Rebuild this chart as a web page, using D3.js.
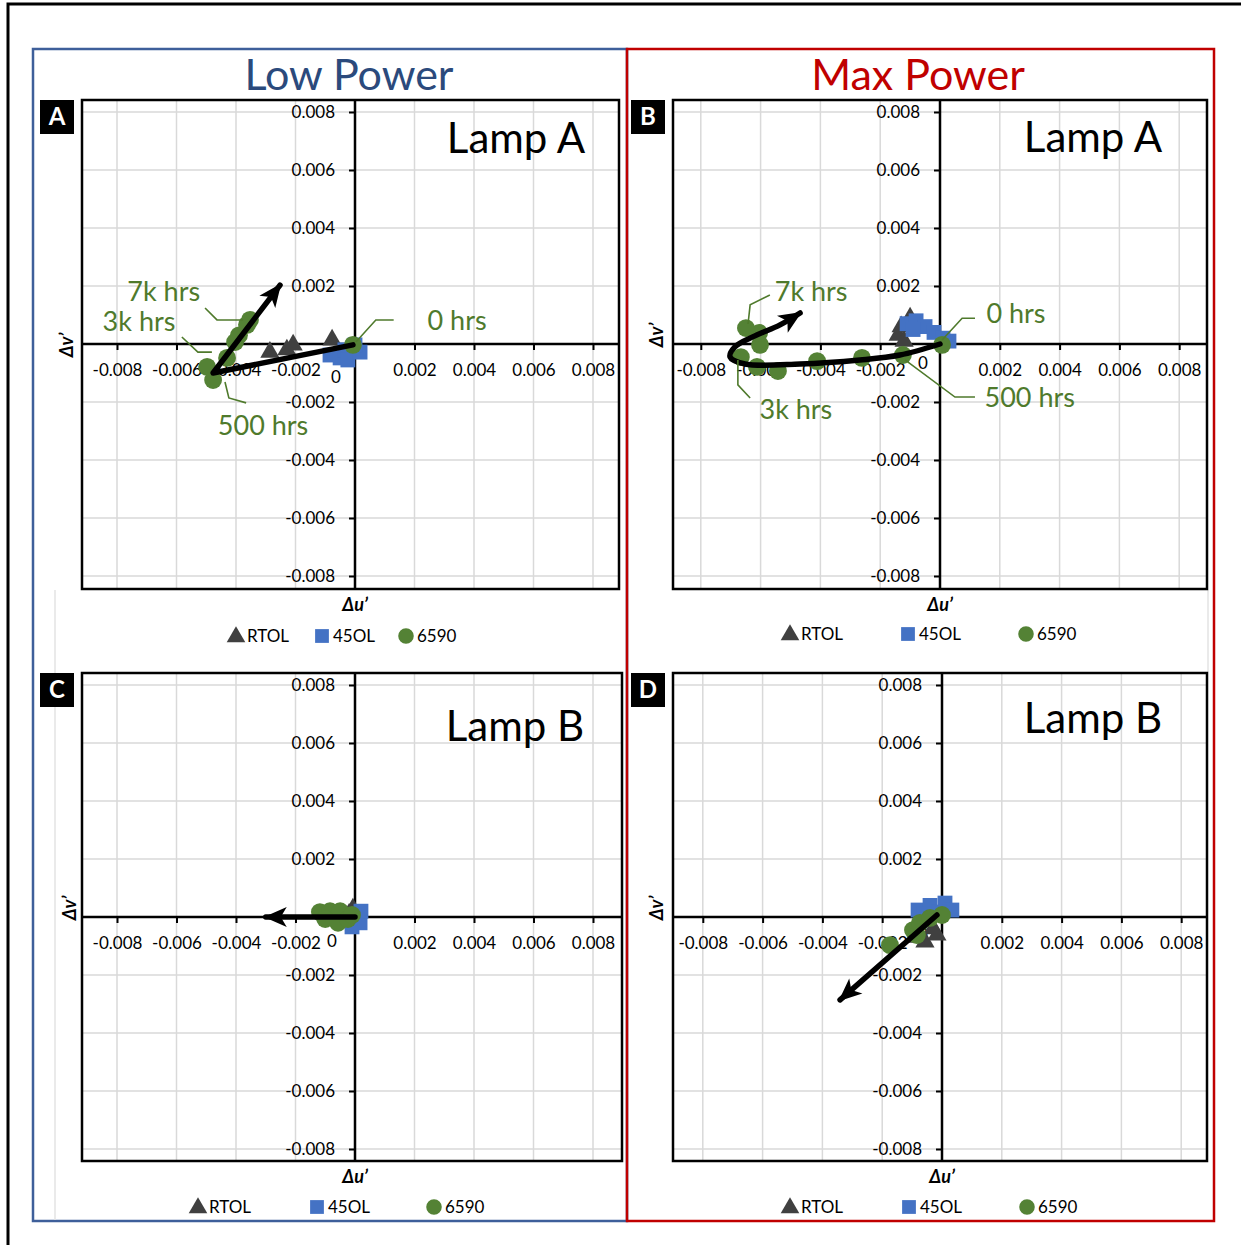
<!doctype html>
<html lang="en">
<head>
    <meta charset="utf-8">
    <title>Lamp chromaticity shift</title>
    <script src="https://cdnjs.cloudflare.com/ajax/libs/d3/7.8.5/d3.min.js"></script>
    <style>
        body { margin: 0; background: #fff; }
        svg text { font-family: Lato, "Open Sans", sans-serif; }
        .tick-label { font-size: 17px; fill: #000; }
        .grid { stroke: #d9d9d9; stroke-width: 1.5; }
    </style>
</head>
<body>
    <div id="chart"></div>
    <script>
        // ---- data (du', dv') ----
        var seriesNames = ['RTOL', '45OL', '6590'];
        var axisTicks = [-0.008, -0.006, -0.004, -0.002, 0.002, 0.004, 0.006, 0.008];

        // A: low power, lamp A
        var lowA_RTOL = [[-0.00286, -0.00028], [-0.00229, -0.0002], [-0.00208, -0.00003], [-0.00077, 0.00014]];
        var lowA_45OL = [[-0.00084, -0.00038], [-0.0005, -0.00048], [-0.00034, -0.0002], [-0.00024, -0.00055], [0.00017, -0.00028], [0.0, -0.00003]];
        var lowA_6590 = [[-0.00007, -0.00003], [-0.00497, -0.00079], [-0.00477, -0.00124], [-0.0043, -0.00048],
                         [-0.00403, 0.00007], [-0.0039, 0.0003], [-0.00363, 0.00066], [-0.00353, 0.00083]];
        // B: max power, lamp A
        var maxA_RTOL = [[-0.0013, 0.0006], [-0.0014, 0.0003], [-0.0012, 0.0001], [-0.001, 0.0009]];
        var maxA_45OL = [[-0.0011, 0.0007], [-0.0008, 0.0008], [-0.0005, 0.0006], [-0.0009, 0.0005],
                         [-0.0002, 0.0004], [0.0001, 0.0002], [0.0003, 0.0001]];
        var maxA_6590 = [[0.00007, -0.00003], [-0.00124, -0.00038], [-0.00261, -0.00048], [-0.00411, -0.00059],
                         [-0.00542, -0.00093], [-0.00612, -0.00079], [-0.00666, -0.00045], [-0.00602, -0.00003],
                         [-0.00605, 0.00038], [-0.00649, 0.00055]];
        // C: low power, lamp B
        var lowB_RTOL = [[-0.00007, 0.00028], [-0.0002, 0.0001]];
        var lowB_45OL = [[0.00007, 0.0], [0.00017, -0.0002], [-0.0001, -0.00034], [0.0002, 0.0002]];
        var lowB_6590 = [[-0.00118, 0.00017], [-0.00084, 0.0002], [-0.0005, 0.0002], [-0.001, -0.00007],
                         [-0.00057, -0.0002], [-0.00024, -0.00007], [-0.0001, 0.00007]];
        // D: max power, lamp B
        var maxB_RTOL = [[-0.00057, -0.00086], [-0.00017, -0.00062], [-0.0009, -0.0007], [-0.0003, -0.0004]];
        var maxB_45OL = [[-0.0008, 0.00024], [-0.0004, 0.0004], [0.0001, 0.00048], [0.00033, 0.00024],
                         [-0.0001, 0.00017], [-0.0006, 0.0001]];
        var maxB_6590 = [[-0.00174, -0.00097], [-0.00097, -0.00045], [-0.00084, -0.00062], [-0.00074, -0.0002],
                         [-0.0004, -0.00003], [0.0, 0.00007]];

        // trend arrows
        var arrowLowA = [[-0.00007, -0.00003], [-0.00477, -0.001], [-0.00252, 0.00203]];
        var arrowMaxA = [[0.0, 0.0], [-0.00134, -0.00038], [-0.00268, -0.00055], [-0.00468, -0.00069],
                         [-0.00652, -0.00069], [-0.00702, -0.00045], [-0.00686, -0.0001], [-0.00619, 0.00028],
                         [-0.00535, 0.00066], [-0.00468, 0.00107]];
        var arrowLowB = [[0.0, 0.0], [-0.003, 0.0]];
        var arrowMaxB = [[-0.00017, 0.00007], [-0.00341, -0.00286]];

        // hour labels: text, anchor point, leader line
        var hoursLowA = [
            {text: '7k hrs', at: [-0.00643, 0.00183], leader: [[-0.00504, 0.00124], [-0.00464, 0.00083], [-0.00376, 0.00083]]},
            {text: '3k hrs', at: [-0.00726, 0.00079], leader: [[-0.00582, 0.00024], [-0.00528, -0.00028], [-0.00481, -0.00028]]},
            {text: '500 hrs', at: [-0.00309, -0.00279], leader: [[-0.00437, -0.00131], [-0.00424, -0.00186], [-0.00366, -0.00203]]},
            {text: '0 hrs', at: [0.00343, 0.00083], leader: [[0.00003, 0.00007], [0.0007, 0.00083], [0.0013, 0.00083]]}
        ];
        var hoursMaxA = [
            {text: '7k hrs', at: [-0.00431, 0.00183], leader: [[-0.00569, 0.00169], [-0.00635, 0.00135], [-0.00642, 0.00069]]},
            {text: '0 hrs', at: [0.00254, 0.00107], leader: [[0.00007, 0.00014], [0.00074, 0.00089], [0.00117, 0.00089]]},
            {text: '500 hrs', at: [0.003, -0.00183], leader: [[-0.00117, -0.00055], [0.0005, -0.00183], [0.00117, -0.00183]]},
            {text: '3k hrs', at: [-0.00482, -0.00224], leader: [[-0.00676, -0.00055], [-0.00676, -0.00141], [-0.00635, -0.00186]]}
        ];

        // ---- layout ----
        var panels = [
            {id: 'A', box: [82, 619, 100, 589], origin: [355, 344], k: [29750, 29000], lamp: 'Lamp A', lampAt: [516, 153],
             zero: [-19, 33], rtol: lowA_RTOL, ol: lowA_45OL, g: lowA_6590, arrow: arrowLowA, curved: false, hours: hoursLowA,
             legend: [236, 322, 406], legendY: 636, vTitle: [67, 345]},
            {id: 'B', box: [673, 1207, 100, 589], origin: [940, 344], k: [29900, 29000], lamp: 'Lamp A', lampAt: [1093, 152],
             zero: [-17, 19], rtol: maxA_RTOL, ol: maxA_45OL, g: maxA_6590, arrow: arrowMaxA, curved: true, hours: hoursMaxA,
             legend: [790, 908, 1026], legendY: 634, vTitle: [657, 335]},
            {id: 'C', box: [82, 622, 673, 1161], origin: [355, 917], k: [29750, 29000], lamp: 'Lamp B', lampAt: [515, 741],
             zero: [-23, 24], rtol: lowB_RTOL, ol: lowB_45OL, g: lowB_6590, arrow: arrowLowB, curved: false, hours: [],
             legend: [198, 317, 434], legendY: 1207, vTitle: [70, 908]},
            {id: 'D', box: [673, 1207, 673, 1161], origin: [942, 917], k: [29900, 29000], lamp: 'Lamp B', lampAt: [1093, 733],
             zero: [-19, 17], rtol: maxB_RTOL, ol: maxB_45OL, g: maxB_6590, arrow: arrowMaxB, curved: false, hours: [],
             legend: [790, 909, 1027], legendY: 1207, vTitle: [657, 908]}
        ];

        var colors = {rtol: '#404040', ol: '#4472c4', g: '#548235', label: '#4f7a2c'};

        var svg = d3.select('#chart')
            .append('svg')
            .attr('width', 1241)
            .attr('height', 1245);

        svg.append('defs').append('marker')
            .attr('id', 'head')
            .attr('viewBox', '-22 -11 24 22')
            .attr('refX', 0).attr('refY', 0)
            .attr('markerUnits', 'userSpaceOnUse')
            .attr('markerWidth', 24).attr('markerHeight', 22)
            .attr('orient', 'auto')
            .append('path')
            .attr('d', 'M-21,-10 L2,0 L-21,10 L-15,0 Z')
            .attr('fill', '#000');

        // outer frame (left and top edges only)
        svg.append('path')
            .attr('d', 'M8,1245 L8,4 L1241,4')
            .attr('fill', 'none').attr('stroke', '#000').attr('stroke-width', 3);

        // group boxes
        svg.append('rect').attr('x', 33).attr('y', 49).attr('width', 594).attr('height', 1172)
            .attr('fill', 'none').attr('stroke', '#3e5f9a').attr('stroke-width', 2.5);
        svg.append('line').attr('x1', 55).attr('x2', 55).attr('y1', 590).attr('y2', 1220)
            .attr('stroke', '#e3e3e3').attr('stroke-width', 1.5);
        svg.append('line').attr('x1', 1208).attr('x2', 1208).attr('y1', 590).attr('y2', 672)
            .attr('stroke', '#e3e3e3').attr('stroke-width', 1.5);
        svg.append('rect').attr('x', 627).attr('y', 49).attr('width', 587).attr('height', 1172)
            .attr('fill', 'none').attr('stroke', '#c00000').attr('stroke-width', 2.5);

        svg.append('text').attr('x', 349).attr('y', 90).attr('text-anchor', 'middle')
            .attr('font-size', 43).attr('fill', '#2b4a7c').text('Low Power');
        svg.append('text').attr('x', 918).attr('y', 90).attr('text-anchor', 'middle')
            .attr('font-size', 43).attr('fill', '#c00000').text('Max Power');

        var symTri = d3.symbol().type(d3.symbolTriangle).size(160);
        var symSq = d3.symbol().type(d3.symbolSquare).size(220);
        var symCirc = d3.symbol().type(d3.symbolCircle).size(250);

        panels.forEach(function(p) {
            var x0 = p.box[0], x1 = p.box[1], y0 = p.box[2], y1 = p.box[3];
            var x = d3.scaleLinear()
                .domain([(x0 - p.origin[0]) / p.k[0], (x1 - p.origin[0]) / p.k[0]])
                .range([x0, x1]);
            var y = d3.scaleLinear()
                .domain([(p.origin[1] - y1) / p.k[1], (p.origin[1] - y0) / p.k[1]])
                .range([y1, y0]);

            var g = svg.append('g').attr('class', 'panel-' + p.id);

            // gridlines
            g.selectAll('line.gx').data(axisTicks).enter().append('line')
                .attr('class', 'grid')
                .attr('x1', function(d) { return x(d); }).attr('x2', function(d) { return x(d); })
                .attr('y1', y0).attr('y2', y1);
            g.selectAll('line.gy').data(axisTicks).enter().append('line')
                .attr('class', 'grid')
                .attr('y1', function(d) { return y(d); }).attr('y2', function(d) { return y(d); })
                .attr('x1', x0).attr('x2', x1);

            // axes through the origin
            var fmt = function(d) { return d3.format('.3f')(d).replace('\u2212', '-'); };
            var xAxis = d3.axisBottom(x).tickValues(axisTicks).tickSize(6).tickFormat(fmt);
            var yAxis = d3.axisLeft(y).tickValues(axisTicks).tickSize(6).tickFormat(fmt);

            var gx = g.append('g').attr('transform', 'translate(0,' + y(0) + ')').call(xAxis);
            gx.select('.domain').attr('d', 'M' + x0 + ',0H' + x1).attr('stroke-width', 2.5);
            gx.selectAll('.tick line').attr('stroke-width', 2);
            gx.selectAll('.tick text').attr('class', 'tick-label').attr('y', 20).attr('dy', '0.71em');

            var gy = g.append('g').attr('transform', 'translate(' + x(0) + ',0)').call(yAxis);
            gy.select('.domain').attr('d', 'M0,' + y0 + 'V' + y1).attr('stroke-width', 2.5);
            gy.selectAll('.tick line').attr('stroke-width', 2);
            gy.selectAll('.tick text').attr('class', 'tick-label').attr('x', -20);
            g.selectAll('.domain').attr('stroke', '#000');
            g.selectAll('.tick line').attr('stroke', '#000');
            g.selectAll('.tick text').attr('fill', '#000').attr('font-family', null).attr('font-size', null);

            g.append('text').attr('class', 'tick-label')
                .attr('x', x(0) + p.zero[0]).attr('y', y(0) + p.zero[1] + 6)
                .attr('text-anchor', 'middle').text('0');

            // plot frame
            g.append('rect').attr('x', x0).attr('y', y0).attr('width', x1 - x0).attr('height', y1 - y0)
                .attr('fill', 'none').attr('stroke', '#000').attr('stroke-width', 2.5);

            // series
            g.selectAll('path.rtol').data(p.rtol).enter().append('path')
                .attr('d', symTri).attr('fill', colors.rtol)
                .attr('transform', function(d) { return 'translate(' + x(d[0]) + ',' + y(d[1]) + ')'; });
            g.selectAll('path.ol').data(p.ol).enter().append('path')
                .attr('d', symSq).attr('fill', colors.ol)
                .attr('transform', function(d) { return 'translate(' + x(d[0]) + ',' + y(d[1]) + ')'; });
            g.selectAll('path.g6590').data(p.g).enter().append('path')
                .attr('d', symCirc).attr('fill', colors.g)
                .attr('transform', function(d) { return 'translate(' + x(d[0]) + ',' + y(d[1]) + ')'; });

            // trend arrow
            var line = d3.line().x(function(d) { return x(d[0]); }).y(function(d) { return y(d[1]); });
            if (p.curved) line.curve(d3.curveCatmullRom.alpha(0.5));
            g.append('path').attr('d', line(p.arrow))
                .attr('fill', 'none').attr('stroke', '#000').attr('stroke-width', 5.5)
                .attr('stroke-linejoin', 'round').attr('stroke-linecap', 'round')
                .attr('marker-end', 'url(#head)');

            // hour labels
            var straight = d3.line().x(function(d) { return x(d[0]); }).y(function(d) { return y(d[1]); });
            p.hours.forEach(function(h) {
                g.append('path').attr('d', straight(h.leader))
                    .attr('fill', 'none').attr('stroke', colors.label).attr('stroke-width', 1.6);
                g.append('text').attr('x', x(h.at[0])).attr('y', y(h.at[1]))
                    .attr('text-anchor', 'middle').attr('dy', '0.36em')
                    .attr('font-size', 27).attr('fill', colors.label).text(h.text);
            });

            // lamp name
            g.append('text').attr('x', p.lampAt[0]).attr('y', p.lampAt[1]).attr('text-anchor', 'middle')
                .attr('font-size', 42).attr('fill', '#000').text(p.lamp);

            // panel letter
            var lx = x0 - 42, ly = y0;
            g.append('rect').attr('x', lx).attr('y', ly).attr('width', 34).attr('height', 34).attr('fill', '#000');
            g.append('text').attr('x', lx + 17).attr('y', ly + 25).attr('text-anchor', 'middle')
                .attr('font-size', 24).attr('font-weight', 'bold').attr('fill', '#fff').text(p.id);

            // axis titles
            g.append('text').attr('x', x(0)).attr('y', y1 + 22).attr('text-anchor', 'middle')
                .attr('font-size', 18).attr('font-weight', 'bold').attr('font-style', 'italic').text('\u0394u\u2019');
            g.append('text').attr('transform', 'translate(' + p.vTitle[0] + ',' + p.vTitle[1] + ') rotate(-90)')
                .attr('text-anchor', 'middle').attr('dy', '0.35em')
                .attr('font-size', 18).attr('font-weight', 'bold').attr('font-style', 'italic').text('\u0394v\u2019');

            // legend
            var legSyms = [
                d3.symbol().type(d3.symbolTriangle).size(150),
                d3.symbol().type(d3.symbolSquare).size(190),
                d3.symbol().type(d3.symbolCircle).size(190)
            ];
            var legColors = [colors.rtol, colors.ol, colors.g];
            seriesNames.forEach(function(name, i) {
                var cx = p.legend[i];
                g.append('path').attr('d', legSyms[i]())
                    .attr('fill', legColors[i])
                    .attr('transform', 'translate(' + cx + ',' + (p.legendY + (i === 0 ? 1 : 0)) + ')');
                g.append('text').attr('x', cx + 11).attr('y', p.legendY).attr('dy', '0.36em')
                    .attr('font-size', 17).attr('fill', '#000').text(name);
            });
        });
    </script>
</body>
</html>
